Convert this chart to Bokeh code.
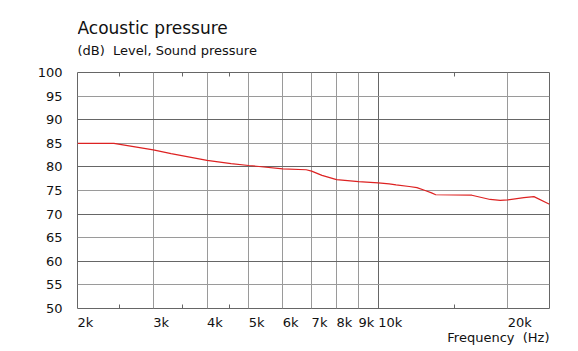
from bokeh.plotting import figure
from bokeh.models import FixedTicker, Grid, LogAxis, Range1d
from bokeh.layouts import column
from bokeh.core.properties import value
from bokeh.embed import file_html
from bokeh.resources import INLINE

# ---- data ----
freq_hz = [2000, 2430, 2700, 3000, 3300, 4000, 4550, 5000, 6000, 6800, 7000, 7400,
           8000, 9000, 10000, 10600, 11000, 11800, 12300, 12850, 13300, 13600,
           16500, 18200, 19200, 20000, 21800, 23000, 25000]
spl_db = [85.0, 85.0, 84.3, 83.6, 82.8, 81.4, 80.7, 80.3, 79.6, 79.4, 79.1, 78.2,
          77.3, 76.9, 76.6, 76.4, 76.2, 75.85, 75.6, 75.0, 74.5, 74.1,
          74.0, 73.1, 72.9, 73.0, 73.5, 73.7, 72.1]

x_ticks = [2000, 3000, 4000, 5000, 6000, 7000, 8000, 9000, 10000, 20000]
x_labels = ["2k", "3k", "4k", "5k", "6k", "7k", "8k", "9k", "10k", "20k"]
x_minor = [2500, 3500, 4500, 15000]
x_grid_light = [3000, 4000, 5000, 6000, 7000, 8000, 9000, 20000]
x_grid_dark = [10000]
y_ticks = [50, 55, 60, 65, 70, 75, 80, 85, 90, 95, 100]
y_labels = ["50", "55", "60", "65", "70", "75", "80", "85", "90", "95", "100"]
y_grid_light = [55, 65, 75, 85, 95]
y_grid_dark = [60, 70, 80, 90]
x_lo, x_hi = 2000, 25000
y_lo, y_hi = 50, 100

title_text = "Acoustic pressure"
subtitle_text = "(dB)\u00a0\u00a0Level, Sound pressure"
xlabel_text = "Frequency\u00a0\u00a0(Hz)"

FONT = "DejaVu Sans"
DARK = "#666666"
LIGHT = "#9a9a9a"
TXT = "#111111"
W = 578
HEAD_H = 60
MAIN_TOP, FRAME_H, MAIN_BOT = 12, 236, 7
MAIN_H = MAIN_TOP + FRAME_H + MAIN_BOT
FOOT_H = 351 - HEAD_H - MAIN_H
LB, RB = 77, 29

xr = Range1d(x_lo, x_hi)


def strip(fig):
    fig.outline_line_color = None
    fig.background_fill_color = "white"
    fig.border_fill_color = "white"
    fig.xgrid.visible = False
    fig.ygrid.visible = False


# ---- header (title + subtitle) ----
head = figure(width=W, height=HEAD_H, x_axis_type="log", x_range=xr,
              y_range=Range1d(HEAD_H, 0), x_axis_location=None, y_axis_location=None,
              output_backend="svg", toolbar_location=None, min_border_left=LB,
              min_border_right=RB, min_border_top=0, min_border_bottom=0, title=None)
strip(head)
head.text(x=[x_lo], y=[27.4], text=[title_text], text_font=value(FONT),
          text_font_size=value("17px"), text_align="left", text_baseline="alphabetic",
          text_color=TXT)
head.text(x=[x_lo], y=[49.8], text=[subtitle_text], text_font=value(FONT),
          text_font_size=value("13px"), text_align="left", text_baseline="alphabetic",
          text_color=TXT)

# ---- main plot ----
p = figure(width=W, height=MAIN_H, x_axis_type="log", x_range=xr,
           y_range=Range1d(y_lo, y_hi), output_backend="svg", toolbar_location=None,
           min_border_left=LB, min_border_right=RB, min_border_top=MAIN_TOP,
           min_border_bottom=MAIN_BOT, title=None)
strip(p)
p.outline_line_color = DARK
p.outline_line_width = 1

for ticks, col, dim in [(x_grid_light, LIGHT, 0), (x_grid_dark, DARK, 0),
                        (y_grid_light, LIGHT, 1), (y_grid_dark, DARK, 1)]:
    p.add_layout(Grid(dimension=dim, ticker=FixedTicker(ticks=ticks),
                      grid_line_color=col, grid_line_width=1))

xa = p.xaxis[0]
xa.ticker = FixedTicker(ticks=[], minor_ticks=x_minor)
xa.axis_line_color = None
xa.major_tick_line_color = None
xa.major_tick_in = 0
xa.major_tick_out = 0
xa.minor_tick_in = 4
xa.minor_tick_out = 0
xa.minor_tick_line_color = DARK
xa.major_label_standoff = 0

ya = p.yaxis[0]
ya.ticker = FixedTicker(ticks=y_ticks, minor_ticks=[])
ya.major_label_overrides = dict(zip(y_ticks, y_labels))
ya.axis_line_color = None
ya.major_tick_line_color = None
ya.minor_tick_line_color = None
ya.major_tick_in = 0
ya.major_tick_out = 0
ya.major_label_standoff = 15
ya.major_label_text_font = FONT
ya.major_label_text_font_size = "13px"
ya.major_label_text_color = TXT

top = LogAxis(ticker=FixedTicker(ticks=[], minor_ticks=x_minor),
              axis_line_color=None, major_tick_line_color=None,
              major_tick_in=0, major_tick_out=0, minor_tick_in=4, minor_tick_out=0,
              minor_tick_line_color=DARK, major_label_standoff=0)
p.add_layout(top, "above")

p.line(freq_hz, spl_db, line_color="#dd2222", line_width=1.2)

# ---- footer (x tick labels, left-aligned at ticks, and axis title) ----
foot = figure(width=W, height=FOOT_H, x_axis_type="log", x_range=xr,
              y_range=Range1d(FOOT_H, 0), x_axis_location=None, y_axis_location=None,
              output_backend="svg", toolbar_location=None, min_border_left=LB,
              min_border_right=RB, min_border_top=0, min_border_bottom=0, title=None)
strip(foot)
foot.text(x=x_ticks, y=[6.8] * len(x_ticks), text=x_labels, text_font=value(FONT),
          text_font_size=value("13px"), text_align="left", text_baseline="alphabetic",
          text_color=TXT)
foot.text(x=[x_hi], y=[22.0], text=[xlabel_text], text_font=value(FONT),
          text_font_size=value("13px"), text_align="right", text_baseline="alphabetic",
          text_color=TXT)

layout = column(head, p, foot, spacing=0)
open("out.html", "w").write(file_html(layout, INLINE))
